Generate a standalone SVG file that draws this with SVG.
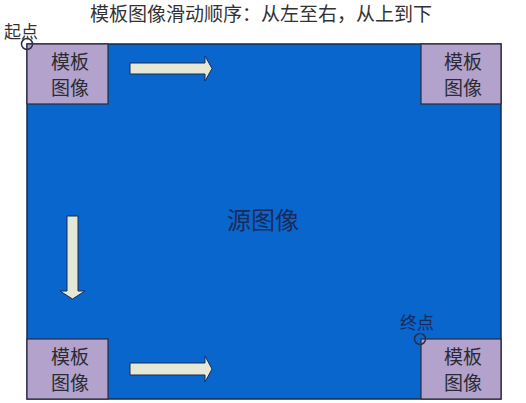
<svg xmlns="http://www.w3.org/2000/svg" width="526" height="403" viewBox="0 0 526 403">
<style>
.t{font-family:"Noto Sans CJK SC","Liberation Sans",sans-serif;}
.box{fill:#B2A2CC;stroke:#2a2a3a;stroke-width:1.2;}
.bt{font-size:19px;fill:#2b2b33;text-anchor:middle;}
.arr{fill:#E6E8D6;stroke:#1a2a55;stroke-width:1;}
.mk{fill:none;stroke:#2a2f45;stroke-width:1.5;}
</style>
<rect width="526" height="403" fill="#ffffff"/>
<text class="t" x="261" y="21" font-size="19" fill="#333" text-anchor="middle">模板图像滑动顺序：从左至右，从上到下</text>
<g id="source">
<rect x="27" y="44" width="474" height="355" fill="#0866CC" stroke="#1a2a4a" stroke-width="1.5"/>
<text class="t" x="263" y="229" font-size="24" fill="#1a2a5a" text-anchor="middle">源图像</text>
</g>
<g id="tpl-tl"><rect class="box" x="27" y="44" width="81" height="60"/><text class="t bt" x="70" y="69">模板</text><text class="t bt" x="70" y="95">图像</text></g>
<g id="tpl-tr"><rect class="box" x="421" y="44" width="80" height="60"/><text class="t bt" x="463" y="69">模板</text><text class="t bt" x="463" y="95">图像</text></g>
<g id="tpl-bl"><rect class="box" x="27" y="339" width="81" height="60"/><text class="t bt" x="70" y="364">模板</text><text class="t bt" x="70" y="390">图像</text></g>
<g id="tpl-br"><rect class="box" x="421" y="339" width="80" height="60"/><text class="t bt" x="463" y="364">模板</text><text class="t bt" x="463" y="390">图像</text></g>
<g id="start"><circle class="mk" cx="27" cy="44" r="5.5"/><text class="t" x="4" y="38" font-size="17" fill="#333">起点</text></g>
<g id="end"><circle class="mk" cx="420" cy="339" r="5.5"/><text class="t" x="400" y="329" font-size="17" fill="#1a2a5a">终点</text></g>
<g id="connectors">
<path class="arr" d="M130,63 L205,63 L205,56 L212,68.5 L205,81 L205,74 L130,74 Z"/>
<path class="arr" d="M130,363 L205,363 L205,356 L212,369 L205,382 L205,375 L130,375 Z"/>
<path class="arr" d="M67,216 L78,216 L78,291 L85,291 L72.5,299 L60,291 L67,291 Z"/>
</g>
</svg>
